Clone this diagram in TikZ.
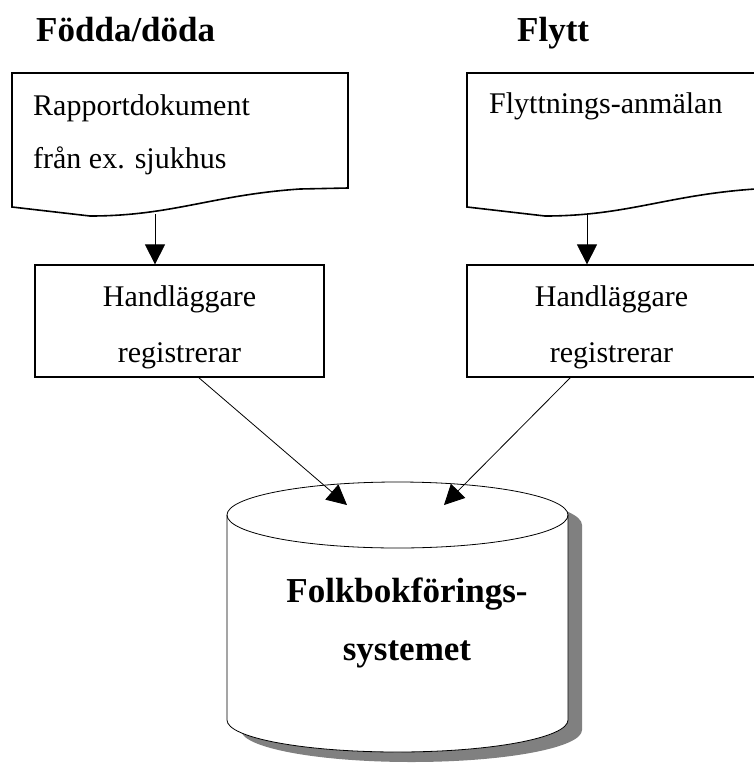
\documentclass[tikz,border=0pt]{standalone}
\usepackage{fontspec}
\setmainfont{Liberation Serif}
\usetikzlibrary{arrows.meta}
\begin{document}
\begin{tikzpicture}[x=1pt,y=-1pt,
  docline/.style={draw, line width=1.6pt, line join=miter, fill=white},
  boxline/.style={draw, line width=1.2pt, inner sep=0pt},
  conn/.style={line width=0.8pt},
  arr/.style={conn, -{Triangle[length=20pt,width=20pt]}},
  reg/.style={font=\fontsize{30}{35}\selectfont, inner sep=0pt},
  bld/.style={font=\fontsize{35}{42}\selectfont\bfseries, inner sep=0pt},
  docpic/.pic={\path[docline] (0,0) -- (336,0) -- (336,115) -- (288,116)
      .. controls (200,122) and (160,143) .. (78,143) -- (0,134) -- cycle;}]
\clip (0,0) rectangle (754,764);
% titles
\node[bld, anchor=base west] (t1) at (36,41) {Födda/döda};
\node[bld, anchor=base west] (t2) at (517,41) {Flytt};
% documents
\pic at (12,73) {docpic};
\pic at (467,73) {docpic};
\node[reg, anchor=base west] (d1a) at (33,115) {Rapportdokument};
\node[reg, anchor=base west] (d1b) at (33,168) {från ex. sjukhus};
\node[reg, anchor=base west] (d2a) at (489,113) {Flyttnings-anmälan};
\coordinate (ldocout) at (155,214);
\coordinate (rdocout) at (587,215);
% boxes
\node[boxline, minimum width=289pt, minimum height=112pt] (lbox) at (179.5,321) {};
\node[boxline, minimum width=289pt, minimum height=112pt] (rbox) at (611.5,321) {};
\node[reg, anchor=base] (l1) at (179.5,306) {Handläggare};
\node[reg, anchor=base] (l2) at (179.5,362) {registrerar};
\node[reg, anchor=base] (r1) at (611.5,306) {Handläggare};
\node[reg, anchor=base] (r2) at (611.5,362) {registrerar};
\draw[arr] (ldocout) -- (ldocout |- lbox.north);
\draw[arr] (rdocout) -- (rdocout |- rbox.north);
% cylinder
\begin{scope}[shift={(14,10)}]
\fill[gray] (227,515) -- (227,720) arc[start angle=180,end angle=360,x radius=170.5pt,y radius=32pt]
  -- (568,515) arc[start angle=0,end angle=180,x radius=170.5pt,y radius=33pt] -- cycle;
\end{scope}
\draw[fill=white, line width=0.8pt] (227,515) -- (227,720) arc[start angle=180,end angle=360,x radius=170.5pt,y radius=32pt]
  -- (568,515) arc[start angle=0,end angle=180,x radius=170.5pt,y radius=33pt] -- cycle;
\draw[line width=0.8pt] (227,515) arc[start angle=180,end angle=360,x radius=170.5pt,y radius=33pt];
\node[bld, anchor=base] (c1) at (407,602) {Folkbokförings-};
\node[bld, anchor=base] (c2) at (407,660) {systemet};
% connectors
\coordinate (lout) at (198,377);
\coordinate (rout) at (571,377);
\coordinate (ltip) at (347,505);
\coordinate (rtip) at (444,505);
\draw[arr] (lout) -- (ltip);
\draw[arr] (rout) -- (rtip);
\end{tikzpicture}
\end{document}
